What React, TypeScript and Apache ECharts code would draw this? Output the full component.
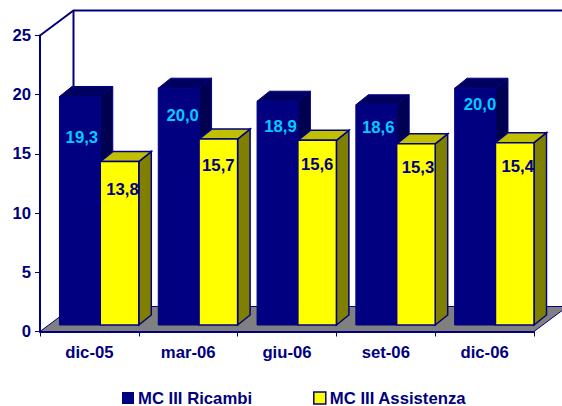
import React, { useEffect, useRef } from "react";
import * as echarts from "echarts";

const categories = ["dic-05", "mar-06", "giu-06", "set-06", "dic-06"];
const ricambi = [19.3, 20.0, 18.9, 18.6, 20.0];
const assistenza = [13.8, 15.7, 15.6, 15.3, 15.4];
const yTicks = { min: 0, max: 25, interval: 5 };

// label placement in pixels relative to the bar's front-top centre
const ricambiLabelOffset = [[2, 41], [4, 27], [3, 25], [2, 23], [5, 16]];
const assistenzaLabelOffset = [[3, 28], [0, 26], [0, 24], [2, 24], [3, 24]];

const NAVY = "#000080";
const FONT = "'Liberation Sans', Arial, sans-serif";
const FS = 16.7;
const wallDX = 33.5;
const wallDY = 25;
const barLiftY = 6.5;
const sideDX = 12.5;
const sideDY = 10;

const poly = (points: number[][], fill: string, stroke = NAVY, lineWidth = 1.5) => ({
  type: "polygon",
  shape: { points },
  style: { fill, stroke, lineWidth },
});

function barRenderer(
  startFrac: number,
  endFrac: number,
  front: string,
  top: string,
  side: string,
  labelColor: string,
  labelOffset: number[][],
  stroke: number,
) {
  return (_params: any, api: any) => {
    const idx = api.value(0);
    const v = api.value(1);
    const band = api.size([1, 0])[0];
    const [cx, yTop] = api.coord([idx, v]);
    const [, yBase] = api.coord([idx, 0]);
    const x0 = cx - band / 2 + band * startFrac;
    const x1 = cx - band / 2 + band * endFrac;
    const y0 = yBase - barLiftY;
    const y1 = yTop - barLiftY;
    const [ox, oy] = labelOffset[idx];
    return {
      type: "group",
      children: [
        poly([[x1, y1], [x1 + sideDX, y1 - sideDY], [x1 + sideDX, y0 - sideDY], [x1, y0]], side, NAVY, stroke),
        poly([[x0, y1], [x0 + sideDX, y1 - sideDY], [x1 + sideDX, y1 - sideDY], [x1, y1]], top, NAVY, stroke),
        poly([[x0, y0], [x1, y0], [x1, y1], [x0, y1]], front, NAVY, stroke),
        {
          type: "text",
          z2: 10,
          style: {
            text: v.toFixed(1).replace(".", ","),
            x: (x0 + x1) / 2 + ox,
            y: y1 + oy,
            align: "center",
            verticalAlign: "middle",
            fill: labelColor,
            font: `bold ${FS}px ${FONT}`,
          },
        },
      ],
    };
  };
}

const renderRoom = (params: any) => {
  const { x, y, width: w, height: h } = params.coordSys;
  const b = y + h;
  return {
    type: "group",
    children: [
      poly([[x, b], [x + w, b], [x + w + wallDX, b - wallDY], [x + wallDX, b - wallDY]], "#808080", NAVY, 1),
      {
        type: "polyline",
        shape: {
          points: [
            [x, y],
            [x + wallDX, y - wallDY],
            [x + w + wallDX, y - wallDY],
          ],
        },
        style: { fill: "none", stroke: NAVY, lineWidth: 2 },
      },
      {
        type: "line",
        shape: { x1: x + wallDX, y1: y - wallDY, x2: x + wallDX, y2: b - wallDY },
        style: { stroke: NAVY, lineWidth: 2 },
      },
    ],
  };
};

export default function App() {
  const ref = useRef<HTMLDivElement>(null);
  useEffect(() => {
    const chart = echarts.init(ref.current!, null, { renderer: "svg" });
    chart.setOption({
      animation: false,
      backgroundColor: "#ffffff",
      grid: { left: 40, right: 28, top: 35.5, bottom: 74.5, containLabel: false },
      xAxis: {
        type: "category",
        data: categories,
        axisLine: { lineStyle: { color: NAVY, width: 2 } },
        axisTick: { show: true, alignWithLabel: false, length: 5, lineStyle: { color: NAVY, width: 1 } },
        axisLabel: { color: NAVY, fontFamily: FONT, fontWeight: "bold", fontSize: FS, margin: 12 },
      },
      yAxis: {
        type: "value",
        min: yTicks.min,
        max: yTicks.max,
        interval: yTicks.interval,
        axisLine: { show: true, lineStyle: { color: NAVY, width: 2 } },
        axisTick: { show: true, length: 5, lineStyle: { color: NAVY, width: 1 } },
        splitLine: { show: false },
        axisLabel: { color: NAVY, fontFamily: FONT, fontWeight: "bold", fontSize: FS, margin: 9 },
      },
      legend: {
        left: 122,
        top: 389.5,
        padding: 0,
        icon: "rect",
        itemWidth: 12,
        itemHeight: 12,
        itemGap: 61,
        textStyle: { color: NAVY, fontFamily: FONT, fontWeight: "bold", fontSize: FS, padding: [0, 0, 0, -1] },
        data: [
          { name: "MC III Ricambi", itemStyle: { color: NAVY } },
          { name: "MC III Assistenza", itemStyle: { color: "#ffff00", borderColor: NAVY, borderWidth: 1.5 } },
        ],
      },
      series: [
        {
          type: "custom",
          name: "room",
          silent: true,
          z: 1,
          renderItem: renderRoom,
          data: [[0, 0]],
          encode: { x: 0, y: 1 },
        },
        {
          type: "custom",
          name: "MC III Ricambi",
          z: 3,
          itemStyle: { color: NAVY },
          renderItem: barRenderer(0.197, 0.61, NAVY, "#000060", "#000050", "#00ccff", ricambiLabelOffset, 1),
          data: ricambi.map((v, i) => [i, v]),
          encode: { x: 0, y: 1 },
        },
        {
          type: "custom",
          name: "MC III Assistenza",
          z: 4,
          itemStyle: { color: "#ffff00" },
          renderItem: barRenderer(0.61, 1.0, "#ffff00", "#c0c000", "#808000", NAVY, assistenzaLabelOffset, 1.5),
          data: assistenza.map((v, i) => [i, v]),
          encode: { x: 0, y: 1 },
        },
      ],
    });
    return () => chart.dispose();
  }, []);
  return <div ref={ref} style={{ position: "fixed", left: 0, top: 0, width: 562, height: 406 }} />;
}
